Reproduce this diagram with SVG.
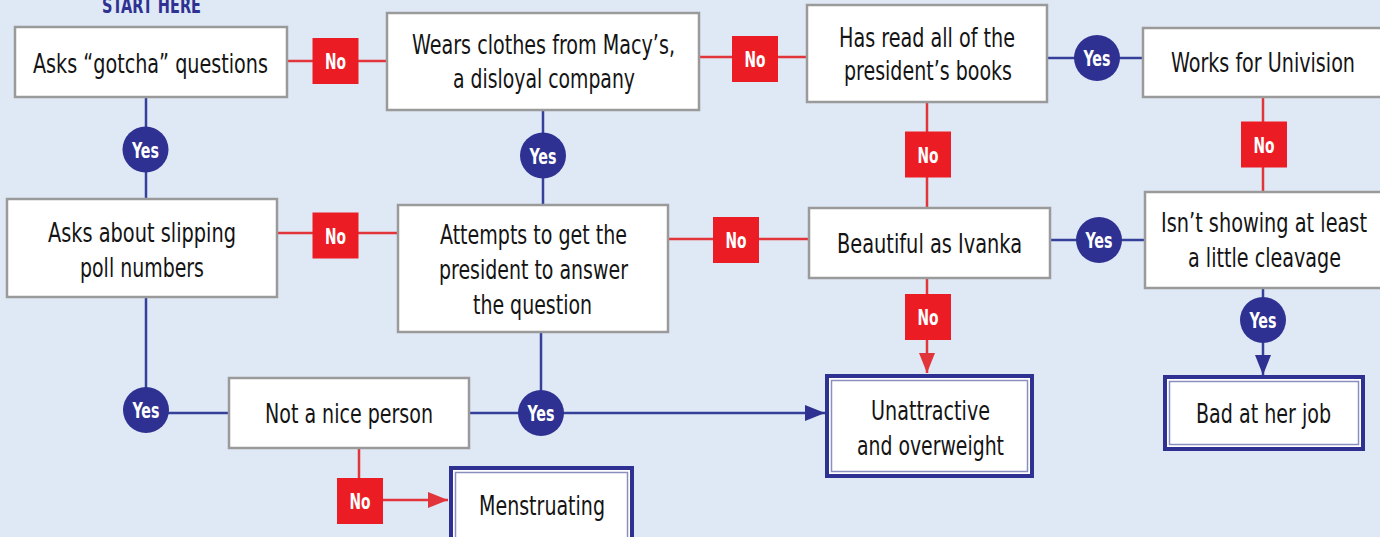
<svg xmlns="http://www.w3.org/2000/svg" width="1380" height="537" viewBox="0 0 1380 537">
<defs>
<style>
.bg{fill:#dfe8f5}
.box{fill:#fff;stroke:#9a9a9a;stroke-width:2.5}
.outer{fill:#fff;stroke:#2e3192;stroke-width:4}
.inner{fill:none;stroke:#8a90bd;stroke-width:1.5}
.t{font-family:"Liberation Sans Narrow","DejaVu Sans Condensed","Liberation Sans",sans-serif;font-size:26px;fill:#141414;text-anchor:middle}
.lbl{font-family:"Liberation Sans Narrow","DejaVu Sans Condensed","Liberation Sans",sans-serif;font-size:22px;font-weight:bold;fill:#fff;text-anchor:middle}
.red{fill:none;stroke:#e2353b;stroke-width:2.5}
.blue{fill:none;stroke:#34409a;stroke-width:2.5}
.nosq{fill:#ec1c24}
.yesc{fill:#2e3192}
.start{font-family:"Liberation Sans Narrow","DejaVu Sans Condensed","Liberation Sans",sans-serif;font-size:21px;font-weight:bold;fill:#2e3192;text-anchor:middle}
</style>
<marker id="ar" viewBox="0 0 20 16" refX="20" refY="8" markerWidth="20" markerHeight="16" markerUnits="userSpaceOnUse" orient="auto">
<path d="M0 0 L20 8 L0 16 Z" fill="#e2353b"/>
</marker>
<marker id="ab" viewBox="0 0 20 16" refX="20" refY="8" markerWidth="20" markerHeight="16" markerUnits="userSpaceOnUse" orient="auto">
<path d="M0 0 L20 8 L0 16 Z" fill="#2e3192"/>
</marker>
</defs>
<rect class="bg" x="0" y="0" width="1380" height="537"/>
<text class="start" x="151.5" y="12.5" textLength="99" lengthAdjust="spacingAndGlyphs">START HERE</text>

<g id="connectors">
<path class="red" d="M287 61 H388"/>
<path class="red" d="M699 57 H807"/>
<path class="red" d="M927 102 V208"/>
<path class="red" d="M1263 97 V192"/>
<path class="red" d="M668 239 H809"/>
<path class="red" d="M277 233 H398"/>
<path class="red" d="M927 278 V373" marker-end="url(#ar)"/>
<path class="red" d="M359 448 V500 H448" marker-end="url(#ar)"/>
<path class="blue" d="M146 97 V199"/>
<path class="blue" d="M543 110 V205"/>
<path class="blue" d="M1047 58 H1143"/>
<path class="blue" d="M1050 240 H1145"/>
<path class="blue" d="M1263 288 V375" marker-end="url(#ab)"/>
<path class="blue" d="M146 297 V413 H229"/>
<path class="blue" d="M541 332 V413"/>
<path class="blue" d="M469 413 H825" marker-end="url(#ab)"/>

<g id="labels">
<rect class="nosq" x="312.5" y="38" width="46" height="46"/><text class="lbl" x="335.5" y="69" textLength="21" lengthAdjust="spacingAndGlyphs">No</text>
<rect class="nosq" x="732" y="36" width="46" height="46"/><text class="lbl" x="755" y="67" textLength="21" lengthAdjust="spacingAndGlyphs">No</text>
<rect class="nosq" x="905" y="131.5" width="46" height="46"/><text class="lbl" x="928" y="162.5" textLength="21" lengthAdjust="spacingAndGlyphs">No</text>
<rect class="nosq" x="1241" y="121.5" width="46" height="46"/><text class="lbl" x="1264" y="152.5" textLength="21" lengthAdjust="spacingAndGlyphs">No</text>
<rect class="nosq" x="713" y="217" width="46" height="46"/><text class="lbl" x="736" y="248" textLength="21" lengthAdjust="spacingAndGlyphs">No</text>
<rect class="nosq" x="312.5" y="212.5" width="46" height="46"/><text class="lbl" x="335.5" y="243.5" textLength="21" lengthAdjust="spacingAndGlyphs">No</text>
<rect class="nosq" x="905" y="294" width="46" height="46"/><text class="lbl" x="928" y="325" textLength="21" lengthAdjust="spacingAndGlyphs">No</text>
<rect class="nosq" x="337" y="478" width="46" height="46"/><text class="lbl" x="360" y="509" textLength="21" lengthAdjust="spacingAndGlyphs">No</text>
<circle class="yesc" cx="145.5" cy="149.5" r="23"/><text class="lbl" x="145.5" y="157.5" textLength="27" lengthAdjust="spacingAndGlyphs">Yes</text>
<circle class="yesc" cx="543" cy="155.5" r="23"/><text class="lbl" x="543" y="163.5" textLength="27" lengthAdjust="spacingAndGlyphs">Yes</text>
<circle class="yesc" cx="1097" cy="58" r="23"/><text class="lbl" x="1097" y="66" textLength="27" lengthAdjust="spacingAndGlyphs">Yes</text>
<circle class="yesc" cx="1099" cy="240" r="23"/><text class="lbl" x="1099" y="248" textLength="27" lengthAdjust="spacingAndGlyphs">Yes</text>
<circle class="yesc" cx="1263" cy="320" r="23"/><text class="lbl" x="1263" y="328" textLength="27" lengthAdjust="spacingAndGlyphs">Yes</text>
<circle class="yesc" cx="146" cy="410" r="23"/><text class="lbl" x="146" y="418" textLength="27" lengthAdjust="spacingAndGlyphs">Yes</text>
<circle class="yesc" cx="541" cy="413" r="23"/><text class="lbl" x="541" y="421" textLength="27" lengthAdjust="spacingAndGlyphs">Yes</text>
</g>
</g>

<g id="n-gotcha">
<rect class="box" x="15" y="27" width="272" height="70"/>
<text class="t" x="150.5" y="72.5" textLength="235" lengthAdjust="spacingAndGlyphs">Asks “gotcha” questions</text>
</g>
<g id="n-macys">
<rect class="box" x="387" y="13" width="312" height="97"/>
<text class="t" x="543.5" y="54" textLength="263" lengthAdjust="spacingAndGlyphs">Wears clothes from Macy’s,</text>
<text class="t" x="544" y="88" textLength="182" lengthAdjust="spacingAndGlyphs">a disloyal company</text>
</g>
<g id="n-books">
<rect class="box" x="807" y="5" width="240" height="97"/>
<text class="t" x="927" y="47" textLength="176" lengthAdjust="spacingAndGlyphs">Has read all of the</text>
<text class="t" x="928" y="80" textLength="168" lengthAdjust="spacingAndGlyphs">president’s books</text>
</g>
<g id="n-univision">
<rect class="box" x="1143" y="28" width="260" height="69"/>
<text class="t" x="1263" y="72" textLength="184" lengthAdjust="spacingAndGlyphs">Works for Univision</text>
</g>
<g id="n-cleavage">
<rect class="box" x="1145" y="192" width="260" height="96"/>
<text class="t" x="1264" y="232" textLength="206" lengthAdjust="spacingAndGlyphs">Isn’t showing at least</text>
<text class="t" x="1264.5" y="267" textLength="153" lengthAdjust="spacingAndGlyphs">a little cleavage</text>
</g>
<g id="n-ivanka">
<rect class="box" x="809" y="208" width="241" height="70"/>
<text class="t" x="929.5" y="253" textLength="185" lengthAdjust="spacingAndGlyphs">Beautiful as Ivanka</text>
</g>
<g id="n-attempts">
<rect class="box" x="398" y="205" width="270" height="127"/>
<text class="t" x="533.5" y="244" textLength="187" lengthAdjust="spacingAndGlyphs">Attempts to get the</text>
<text class="t" x="533.5" y="279" textLength="189" lengthAdjust="spacingAndGlyphs">president to answer</text>
<text class="t" x="532.5" y="314" textLength="119" lengthAdjust="spacingAndGlyphs">the question</text>
</g>
<g id="n-poll">
<rect class="box" x="7" y="199" width="270" height="98"/>
<text class="t" x="142" y="242" textLength="188" lengthAdjust="spacingAndGlyphs">Asks about slipping</text>
<text class="t" x="142" y="277" textLength="124" lengthAdjust="spacingAndGlyphs">poll numbers</text>
</g>
<g id="n-nice">
<rect class="box" x="229" y="378" width="240" height="70"/>
<text class="t" x="349" y="423" textLength="168" lengthAdjust="spacingAndGlyphs">Not a nice person</text>
</g>
<g id="n-unattractive">
<rect class="outer" x="827" y="376" width="205" height="100"/>
<rect class="inner" x="831.5" y="380.5" width="196" height="91"/>
<text class="t" x="930.5" y="420" textLength="119" lengthAdjust="spacingAndGlyphs">Unattractive</text>
<text class="t" x="930.5" y="455" textLength="147" lengthAdjust="spacingAndGlyphs">and overweight</text>
</g>
<g id="n-badjob">
<rect class="outer" x="1165" y="377" width="198" height="72"/>
<rect class="inner" x="1169.5" y="381.5" width="189" height="63"/>
<text class="t" x="1263.5" y="423" textLength="135" lengthAdjust="spacingAndGlyphs">Bad at her job</text>
</g>
<g id="n-menstruating">
<rect class="outer" x="451" y="468" width="181" height="90"/>
<rect class="inner" x="455.5" y="472.5" width="172" height="81"/>
<text class="t" x="542" y="515" textLength="126" lengthAdjust="spacingAndGlyphs">Menstruating</text>
</g>
</svg>
